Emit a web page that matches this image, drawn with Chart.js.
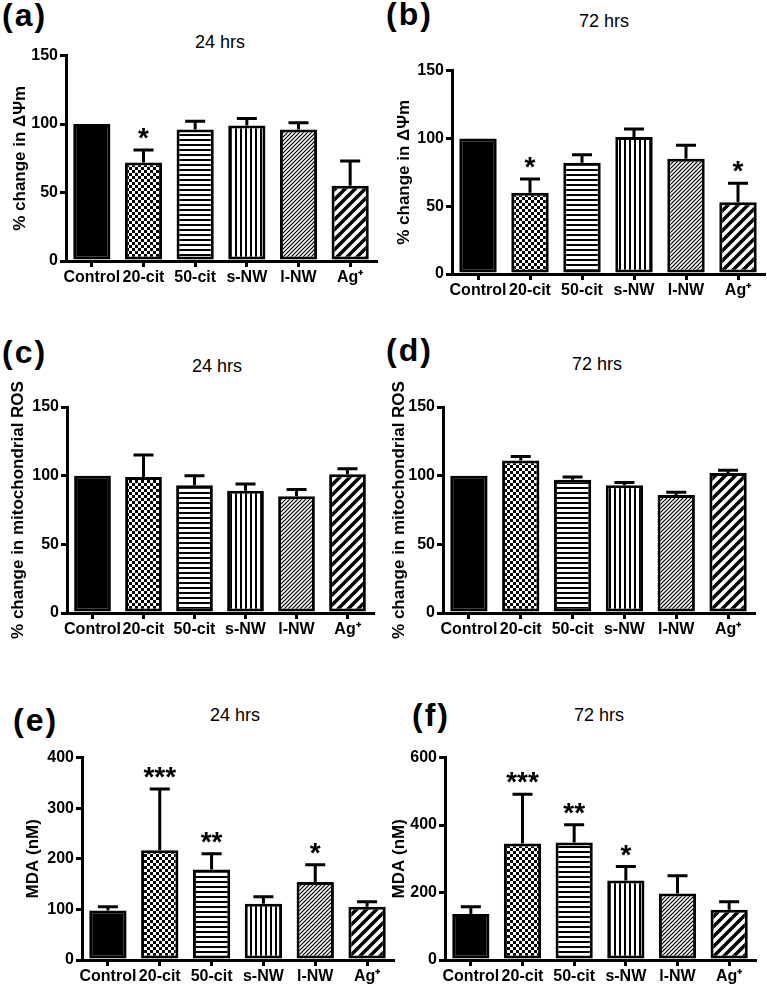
<!DOCTYPE html>
<html>
<head>
<meta charset="utf-8">
<script src="https://cdn.jsdelivr.net/npm/chart.js@4"></script>
<style>
  body { margin: 0; background: #fff; }
  #fig { position: relative; width: 767px; height: 990px; overflow: hidden; font-family: "Liberation Sans", Arial, sans-serif; color: #000; }
  canvas { position: absolute; }
  .tag { position: absolute; font-weight: bold; font-size: 32px; line-height: 32px; letter-spacing: 2px; }
  .ttl { position: absolute; font-size: 18px; line-height: 18px; transform: translateX(-50%); white-space: nowrap; }
</style>
</head>
<body>
<div id="fig">
  <div class="tag" style="left:2px;top:-1px">(a)</div>
  <div class="tag" style="left:386px;top:-2px">(b)</div>
  <div class="tag" style="left:2px;top:336px">(c)</div>
  <div class="tag" style="left:386px;top:334px">(d)</div>
  <div class="tag" style="left:13px;top:704px">(e)</div>
  <div class="tag" style="left:412px;top:699px">(f)</div>

  <div class="ttl" style="left:220px;top:33px">24 hrs</div>
  <div class="ttl" style="left:604px;top:12px">72 hrs</div>
  <div class="ttl" style="left:217px;top:357px">24 hrs</div>
  <div class="ttl" style="left:597px;top:355px">72 hrs</div>
  <div class="ttl" style="left:235px;top:706px">24 hrs</div>
  <div class="ttl" style="left:599px;top:706px">72 hrs</div>

  <canvas id="pa" width="386" height="247" style="left:0px;top:44px"></canvas>
  <canvas id="pb" width="383" height="245" style="left:384px;top:59px"></canvas>
  <canvas id="pc" width="383" height="286" style="left:0px;top:357px"></canvas>
  <canvas id="pd" width="383" height="286" style="left:384px;top:357px"></canvas>
  <canvas id="pe" width="395" height="244" style="left:0px;top:746px"></canvas>
  <canvas id="pf" width="383" height="244" style="left:384px;top:746px"></canvas>
</div>

<script>
// groups on the x axis
const categories = ['Control', '20-cit', '50-cit', 's-NW', 'l-NW', 'Ag\u207A'];

// (a) membrane potential, 24 hrs
const psi24 = [100, 72, 96, 99, 96, 55];
const psi24Err = [0, 9, 6, 5, 5, 18];
const psi24Sig = ['', '*', '', '', '', ''];

// (b) membrane potential, 72 hrs
const psi72 = [100, 60, 82, 101, 85, 53];
const psi72Err = [0, 10, 6, 6, 10, 14];
const psi72Sig = ['', '*', '', '', '', '*'];

// (c) mitochondrial ROS, 24 hrs
const ros24 = [100, 99, 93, 89, 85, 101];
const ros24Err = [0, 16, 7, 5, 5, 4];
const ros24Sig = ['', '', '', '', '', ''];

// (d) mitochondrial ROS, 72 hrs
const ros72 = [100, 111, 97, 93, 86, 102];
const ros72Err = [0, 3, 2, 2, 2, 2];
const ros72Sig = ['', '', '', '', '', ''];

// (e) MDA, 24 hrs
const mda24 = [98, 217, 179, 111, 154, 105];
const mda24Err = [7, 121, 31, 14, 34, 10];
const mda24Sig = ['', '***', '**', '', '*', ''];

// (f) MDA, 72 hrs
const mda72 = [136, 345, 348, 236, 197, 149];
const mda72Err = [22, 146, 53, 41, 53, 24];
const mda72Sig = ['', '***', '**', '*', '', ''];

const FONT = '"Liberation Sans", Arial, sans-serif';
Chart.defaults.font.family = FONT;
Chart.defaults.color = '#000';

// fill patterns for the bars
function tile(w, h, draw) {
  const c = document.createElement('canvas');
  c.width = w; c.height = h;
  const g = c.getContext('2d');
  g.fillStyle = '#fff';
  g.fillRect(0, 0, w, h);
  g.fillStyle = '#000';
  g.strokeStyle = '#000';
  draw(g, w, h);
  return g.createPattern(c, 'repeat');
}
function diagonal(g, T, lw) {
  g.lineWidth = lw;
  for (const c of [0, T, 2 * T]) {
    g.beginPath();
    g.moveTo(c + 1, -1);
    g.lineTo(c - T - 1, T + 1);
    g.stroke();
  }
}
const fills = [
  '#000',
  tile(6, 6, g => { g.fillRect(0, 0, 3, 3); g.fillRect(3, 3, 3, 3); }),
  tile(1, 5, g => g.fillRect(0, 0, 1, 2)),
  tile(5, 1, g => g.fillRect(0, 0, 2, 1)),
  tile(4, 4, g => diagonal(g, 4, 1.2)),
  tile(10, 10, g => diagonal(g, 10, 3.5))
];

// upper error bars and significance stars
const errorBars = {
  id: 'errorBars',
  afterDatasetsDraw(chart, args, opts) {
    const ctx = chart.ctx;
    const y = chart.scales.y;
    const vals = chart.data.datasets[0].data;
    ctx.save();
    ctx.strokeStyle = '#000';
    ctx.fillStyle = '#000';
    ctx.lineWidth = 3;
    chart.getDatasetMeta(0).data.forEach((bar, i) => {
      let top = bar.y;
      if (opts.errors[i] > 0) {
        top = y.getPixelForValue(vals[i] + opts.errors[i]);
        ctx.beginPath();
        ctx.moveTo(bar.x, bar.y);
        ctx.lineTo(bar.x, top);
        ctx.moveTo(bar.x - 10, top);
        ctx.lineTo(bar.x + 10, top);
        ctx.stroke();
      }
      if (opts.stars[i]) {
        ctx.font = 'bold 28px ' + FONT;
        ctx.textAlign = 'center';
        ctx.textBaseline = 'alphabetic';
        ctx.fillText(opts.stars[i], bar.x, top - 3);
      }
    });
    ctx.restore();
  }
};

function panel(id, means, errors, stars, yMax, step, yTitle, layout) {
  const tickFont = { family: FONT, size: 16, weight: 'bold' };
  const titleFont = { family: FONT, size: 17, weight: 'bold', lineHeight: 1.2 };
  new Chart(document.getElementById(id), {
    type: 'bar',
    data: {
      labels: categories,
      datasets: [{
        data: means,
        backgroundColor: fills,
        borderColor: '#000',
        borderWidth: 3,
        borderSkipped: false,
        barPercentage: 0.72,
        categoryPercentage: 1
      }]
    },
    options: {
      responsive: false,
      animation: false,
      devicePixelRatio: 1,
      layout: { padding: { top: layout.top, right: layout.right, left: 0, bottom: 0 } },
      plugins: {
        legend: { display: false },
        tooltip: { enabled: false },
        errorBars: { errors: errors, stars: stars }
      },
      scales: {
        x: {
          grid: { display: true, offset: false, drawOnChartArea: false, color: '#000', lineWidth: 3, tickLength: 6 },
          border: { display: true, color: '#000', width: 3 },
          ticks: { color: '#000', font: tickFont, autoSkip: false, maxRotation: 0, minRotation: 0, padding: 1 },
          afterFit: s => { s.height = 30; }
        },
        y: {
          min: 0,
          max: yMax,
          grid: { display: true, drawOnChartArea: false, color: '#000', lineWidth: 3, tickLength: 6 },
          border: { display: true, color: '#000', width: 3 },
          ticks: { stepSize: step, color: '#000', font: tickFont, padding: 2 },
          title: { display: true, text: yTitle, color: '#000', font: titleFont, padding: { top: layout.titlePad, bottom: 0 } },
          afterFit: s => { s.width = layout.yWidth; }
        }
      }
    },
    plugins: [errorBars]
  });
}

const psiTitle = '% change in \u0394\u03A8m';
const rosTitle = '% change in mitochondrial ROS';
const mdaTitle = 'MDA (nM)';

panel('pa', psi24, psi24Err, psi24Sig, 150, 50, psiTitle, { yWidth: 66, top: 10, right: 10, titlePad: 10 });
panel('pb', psi72, psi72Err, psi72Sig, 150, 50, psiTitle, { yWidth: 68, top: 10, right: 3, titlePad: 10 });
panel('pc', ros24, ros24Err, ros24Sig, 150, 50, rosTitle, { yWidth: 67, top: 50, right: 10, titlePad: 8 });
panel('pd', ros72, ros72Err, ros72Sig, 150, 50, rosTitle, { yWidth: 59, top: 50, right: 13, titlePad: 5 });
panel('pe', mda24, mda24Err, mda24Sig, 400, 100, mdaTitle, { yWidth: 82, top: 10, right: 2, titlePad: 23 });
panel('pf', mda72, mda72Err, mda72Sig, 600, 200, mdaTitle, { yWidth: 61, top: 10, right: 12, titlePad: 5 });
</script>
</body>
</html>
